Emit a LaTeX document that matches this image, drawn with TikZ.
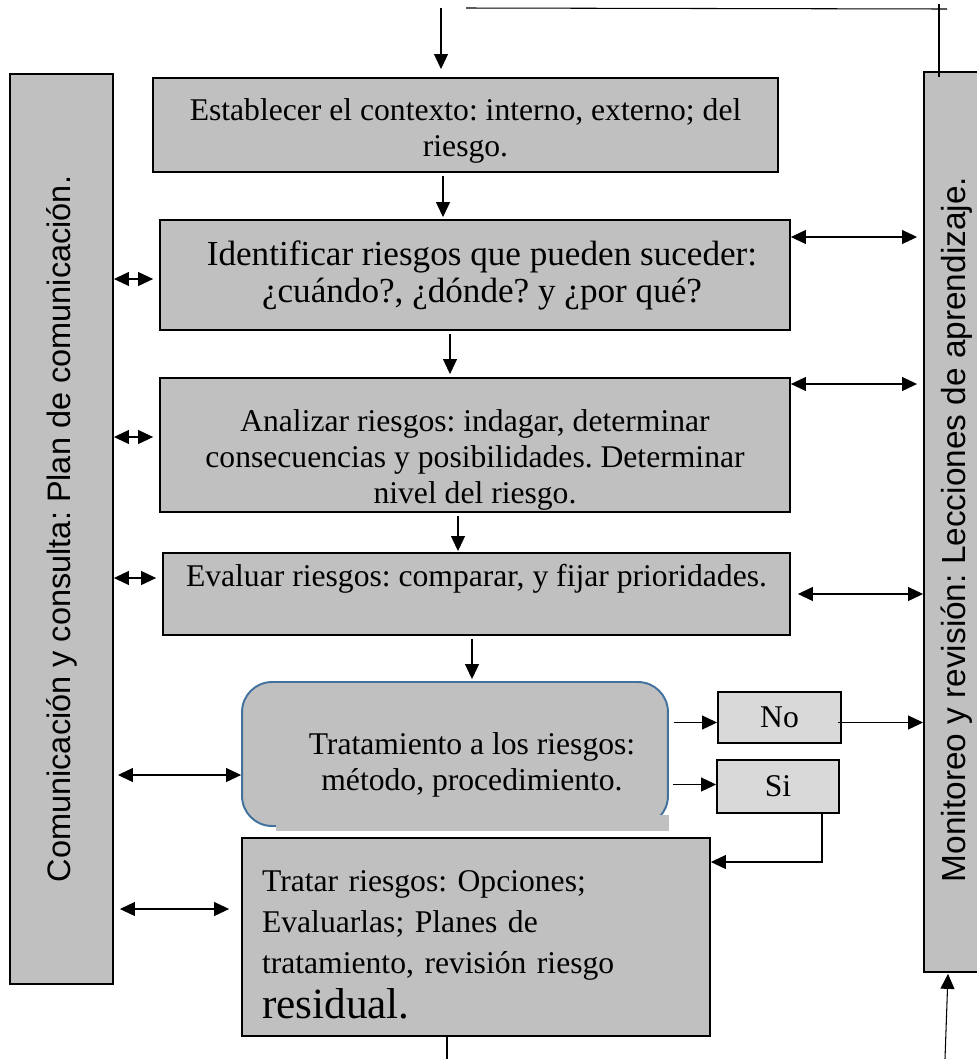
\documentclass[tikz,border=0pt]{standalone}
\usepackage{fontspec}
\setmainfont{Liberation Serif}
\setsansfont{Liberation Sans}
\usepackage{tikz}
\usetikzlibrary{positioning, arrows.meta, calc}

\definecolor{boxgray}{HTML}{C0C0C0}
\definecolor{sigray}{HTML}{D9D9D9}
\definecolor{wordblue}{HTML}{41719C}
\frenchspacing

\begin{document}
\begin{tikzpicture}[x=0.02cm, y=-0.02cm]
    \tikzset{
        paso/.style={
                draw=black, line width=1.1pt, fill=boxgray, align=center,
                inner sep=0pt, font=\fontsize{18}{20.5}\selectfont
            },
        rotulo/.style={
                font=\fontsize{18}{20.5}\selectfont, align=center, inner sep=0pt
            },
        barra/.style={
                draw=black, line width=1.1pt, fill=boxgray, inner sep=0pt,
                font=\sffamily\fontsize{19}{21}\selectfont
            },
        decision/.style={
                draw=black, line width=1.1pt, fill=sigray, inner sep=0pt,
                font=\fontsize{18}{20.5}\selectfont
            },
        flecha/.style={line width=0.6pt, -{Triangle[length=0.3cm, width=0.28cm]}},
        doble/.style={line width=0.6pt, {Triangle[length=0.3cm, width=0.28cm]}-{Triangle[length=0.3cm, width=0.28cm]}},
        linea/.style={line width=0.6pt}
    }

    \useasboundingbox (0,0) rectangle (977,1059);

    % --- barras laterales ---
    \node[barra, font=\sffamily\fontsize{18.5}{21}\selectfont, minimum width=2.06cm, minimum height=18.2cm] (combar) at (61.5,529)
        {\rotatebox{90}{Comunicación y consulta: Plan de comunicación.}};
    \node[barra, minimum width=1.32cm, minimum height=18cm] (monbar) at (957,522)
        {\rotatebox{90}{Monitoreo y revisión: Lecciones de aprendizaje.\hspace{0.3cm}}};

    % --- pasos del proceso ---
    \node[paso, minimum width=12.5cm, minimum height=1.88cm,
        label={[rotulo, yshift=-0.12cm]center:{Establecer el contexto: interno, externo; del\\riesgo.}}]
        (contexto) at (465.5,125) {};
    \node[paso, minimum width=12.6cm, minimum height=2.2cm,
        label={[rotulo, font=\fontsize{20}{21}\selectfont, xshift=0.14cm]center:{Identificar riesgos que pueden suceder:\\¿cuándo?, ¿dónde? y ¿por qué?}}]
        (identificar) at (475,275) {};
    \node[paso, minimum width=12.6cm, minimum height=2.68cm,
        label={[rotulo, yshift=-0.3cm]center:{Analizar riesgos: indagar, determinar\\consecuencias y posibilidades. Determinar\\nivel del riesgo.}}]
        (analizar) at (475,445) {};
    \node[paso, minimum width=12.54cm, minimum height=1.64cm,
        label={[rotulo, yshift=0.3cm]center:{Evaluar riesgos: comparar, y fijar prioridades.}}]
        (evaluar) at (476.5,594) {};
    \node[paso, draw=wordblue, rounded corners=0.6cm, minimum width=8.52cm, minimum height=2.88cm,
        label={[rotulo, xshift=0.34cm, yshift=-0.22cm]center:{Tratamiento a los riesgos:\\método, procedimiento.}}]
        (trat) at (455,754) {};
    % borde inferior tapado
    \fill[boxgray] (276,815) rectangle (669,831);

    \node[decision, minimum width=2.46cm, minimum height=1.02cm] (no) at (779.5,717.5) {No};
    \node[decision, minimum width=2.44cm, minimum height=1.06cm] (si) at (778,786.5) {Si};

    \node[paso, minimum width=9.36cm, minimum height=3.96cm,
        label={[rotulo, font=\fontsize{18}{23.3}\selectfont, text width=8.56cm, align=left, yshift=-0.16cm]center:{Tratar riesgos: Opciones;\\Evaluarlas; Planes de\\tratamiento, revisión riesgo\\[2.7pt]{\fontsize{24.6}{26}\selectfont residual.}}}]
        (tratar) at (476,937) {};

    % --- lineas superiores ---
    \coordinate (entrada) at (441,8);
    \coordinate (arribaizq) at (466,8);
    \coordinate (arribader) at (947,9);
    \coordinate (vertsup) at (939,4);
    \draw[flecha, shorten >=0.16cm] (entrada) -- (entrada |- contexto.north);
    \draw[linea] (arribaizq) -- (arribader);
    \draw[linea] (vertsup) -- ($(vertsup |- monbar.north)+(0,6)$);

    % --- flujo vertical ---
    \draw[flecha] ($(contexto.south)+(-22.5,3)$) -- ($(identificar.north)+(-32,-2)$);
    \draw[flecha] ($(identificar.south)+(-25,3)$) -- ($(analizar.north)+(-25,-3)$);
    \draw[flecha] ($(analizar.south)+(-17,3)$) -- ($(evaluar.north)+(-18.5,-1)$);
    \draw[flecha] ($(evaluar.south)+(-4.5,3)$) -- ($(trat.north)+(17,-2)$);

    % --- comunicacion (izquierda) ---
    \draw[doble, shorten >=0.12cm] ($(combar.east |- identificar.west)+(0,4)$) -- ($(identificar.west)+(0,4)$);
    \draw[doble, shorten >=0.12cm] ($(combar.east |- analizar.west)+(0,-8)$) -- ($(analizar.west)+(0,-8)$);
    \draw[doble, shorten >=0.12cm] ($(combar.east |- evaluar.west)+(0,-16)$) -- ($(evaluar.west)+(0,-16)$);
    \draw[doble, shorten <=0.08cm] ($(combar.east |- trat.west)+(0,21)$) -- ($(trat.west)+(0,21)$);
    \draw[doble, shorten <=0.12cm, shorten >=0.24cm] ($(combar.east |- tratar.west)+(0,-28)$) -- ($(tratar.west)+(0,-28)$);

    % --- monitoreo (derecha) ---
    \draw[doble, shorten >=0.12cm] ($(identificar.east)+(0,-38)$) -- ($(monbar.west |- identificar.east)+(0,-38)$);
    \draw[doble, shorten >=0.12cm] ($(analizar.east)+(0,-61)$) -- ($(monbar.west |- analizar.east)+(0,-61)$);
    \draw[doble, shorten <=0.14cm] (evaluar.east) -- (monbar.west |- evaluar.east);

    % --- decision ---
    \draw[flecha] ($(trat.east |- no.west)+(5,5)$) -- ($(no.west)+(0,5)$);
    \draw[flecha] ($(trat.east |- si.west)+(4,-2)$) -- ($(si.west)+(0,-2)$);
    \draw[flecha] ($(no.east)+(-4,5)$) -- ($(monbar.west |- no.east)+(0,5)$);
    \draw[flecha] ($(si.south)+(44,0)$) |- ($(tratar.east)+(0,-75)$);

    % --- salidas inferiores ---
    \coordinate (salida) at (447,1059);
    \coordinate (retorno) at (945,1059);
    \draw[linea] (salida |- tratar.south) -- (salida);
    \draw[flecha] (retorno) -- ($(monbar.south)+(-9,1)$);
\end{tikzpicture}
\end{document}
